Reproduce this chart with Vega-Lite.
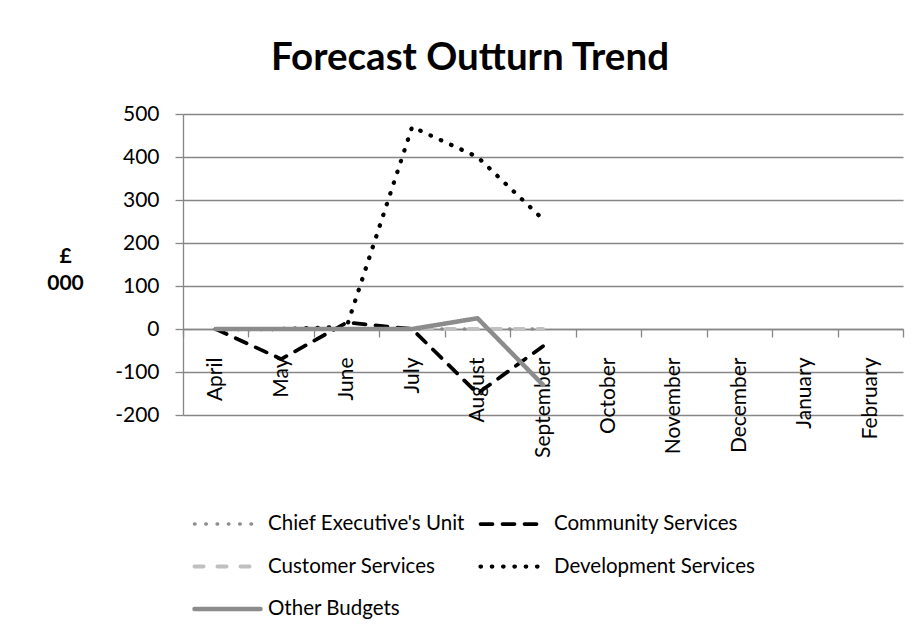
{
  "$schema": "https://vega.github.io/schema/vega-lite/v6.json",
  "autosize": "none",
  "width": 720,
  "height": 301,
  "padding": {"left": 183, "top": 114, "right": 17, "bottom": 219},
  "background": "white",
  "title": {
    "text": "Forecast Outturn Trend",
    "font": "Lato",
    "fontSize": 38.5,
    "fontWeight": "bold",
    "color": "black",
    "anchor": "middle",
    "dx": -73,
    "offset": 25
  },
  "config": {
    "view": {"stroke": null},
    "font": "Lato"
  },
  "data": {
    "values": [
      {"series": "Chief Executive's Unit", "month": "April", "value": 0},
      {"series": "Chief Executive's Unit", "month": "May", "value": 0},
      {"series": "Chief Executive's Unit", "month": "June", "value": 0},
      {"series": "Chief Executive's Unit", "month": "July", "value": 0},
      {"series": "Chief Executive's Unit", "month": "August", "value": 0},
      {"series": "Chief Executive's Unit", "month": "September", "value": 0},
      {"series": "Community Services", "month": "April", "value": 0},
      {"series": "Community Services", "month": "May", "value": -70},
      {"series": "Community Services", "month": "June", "value": 15},
      {"series": "Community Services", "month": "July", "value": 0},
      {"series": "Community Services", "month": "August", "value": -150},
      {"series": "Community Services", "month": "September", "value": -40},
      {"series": "Customer Services", "month": "April", "value": 0},
      {"series": "Customer Services", "month": "May", "value": 0},
      {"series": "Customer Services", "month": "June", "value": 0},
      {"series": "Customer Services", "month": "July", "value": 0},
      {"series": "Customer Services", "month": "August", "value": 0},
      {"series": "Customer Services", "month": "September", "value": 0},
      {"series": "Development Services", "month": "April", "value": 0},
      {"series": "Development Services", "month": "May", "value": 0},
      {"series": "Development Services", "month": "June", "value": 5},
      {"series": "Development Services", "month": "July", "value": 470},
      {"series": "Development Services", "month": "August", "value": 400},
      {"series": "Development Services", "month": "September", "value": 255},
      {"series": "Other Budgets", "month": "April", "value": 0},
      {"series": "Other Budgets", "month": "May", "value": 0},
      {"series": "Other Budgets", "month": "June", "value": 0},
      {"series": "Other Budgets", "month": "July", "value": 0},
      {"series": "Other Budgets", "month": "August", "value": 25},
      {"series": "Other Budgets", "month": "September", "value": -130}
    ]
  },
  "mark": {"type": "line", "strokeCap": "round", "strokeJoin": "round"},
  "encoding": {
    "x": {
      "field": "month",
      "type": "nominal",
      "sort": null,
      "bandPosition": 0.5,
      "scale": {
        "type": "band",
        "paddingInner": 0,
        "paddingOuter": 0,
        "domain": ["April", "May", "June", "July", "August", "September", "October", "November", "December", "January", "February"]
      },
      "axis": {
        "title": null,
        "orient": "bottom",
        "offset": -86,
        "tickBand": "extent",
        "labelAngle": -90,
        "labelAlign": "right",
        "labelBaseline": "middle",
        "labelFont": "Lato",
        "labelFontSize": 21,
        "labelColor": "black",
        "labelPadding": 20,
        "tickSize": 8,
        "tickColor": "#868686",
        "tickWidth": 1.3,
        "domainColor": "#868686",
        "domainWidth": 1.3,
        "grid": false,
        "labelOverlap": false
      }
    },
    "y": {
      "field": "value",
      "type": "quantitative",
      "scale": {"domain": [-200, 500], "nice": false, "zero": false},
      "axis": {
        "title": ["£", "000"],
        "titleAngle": 0,
        "titleFont": "Lato",
        "titleFontSize": 21,
        "titleFontWeight": "bold",
        "titleColor": "black",
        "titleAlign": "center",
        "titleBaseline": "middle",
        "titleLineHeight": 27,
        "titleX": -118,
        "titleY": 142,
        "values": [-200, -100, 0, 100, 200, 300, 400, 500],
        "labelExpr": "datum.value < 0 ? '-' + abs(datum.value) : '' + datum.value",
        "labelFont": "Lato",
        "labelFontSize": 21,
        "labelColor": "black",
        "labelPadding": 16,
        "tickSize": 8,
        "tickColor": "#868686",
        "tickWidth": 1.3,
        "domainColor": "#868686",
        "domainWidth": 1.3,
        "grid": true,
        "gridColor": "#868686",
        "gridWidth": 1.3
      }
    },
    "color": {
      "field": "series",
      "type": "nominal",
      "scale": {
        "domain": ["Chief Executive's Unit", "Community Services", "Customer Services", "Development Services", "Other Budgets"],
        "range": ["#8c8c8c", "#000000", "#c0c0c0", "#000000", "#8c8c8c"]
      },
      "legend": {
        "title": null,
        "orient": "none",
        "legendX": 9,
        "legendY": 392,
        "columns": 2,
        "direction": "horizontal",
        "symbolType": "stroke",
        "symbolSize": 4356,
        "clipHeight": 36,
        "labelFont": "Lato",
        "labelFontSize": 20.5,
        "labelColor": "black",
        "labelOffset": 5,
        "columnPadding": 13,
        "rowPadding": 6.5,
        "labelLimit": 400,
        "encode": {"symbols": {"update": {"strokeCap": {"value": "round"}}}}
      }
    },
    "strokeDash": {
      "field": "series",
      "type": "nominal",
      "scale": {
        "domain": ["Chief Executive's Unit", "Community Services", "Customer Services", "Development Services", "Other Budgets"],
        "range": [[0.5, 10.8], [12, 10], [9, 14], [0.5, 10.8], [1, 0]]
      }
    },
    "strokeWidth": {
      "field": "series",
      "type": "nominal",
      "scale": {
        "domain": ["Chief Executive's Unit", "Community Services", "Customer Services", "Development Services", "Other Budgets"],
        "range": [3.5, 4.5, 4.5, 4.5, 4.5]
      }
    }
  }
}
